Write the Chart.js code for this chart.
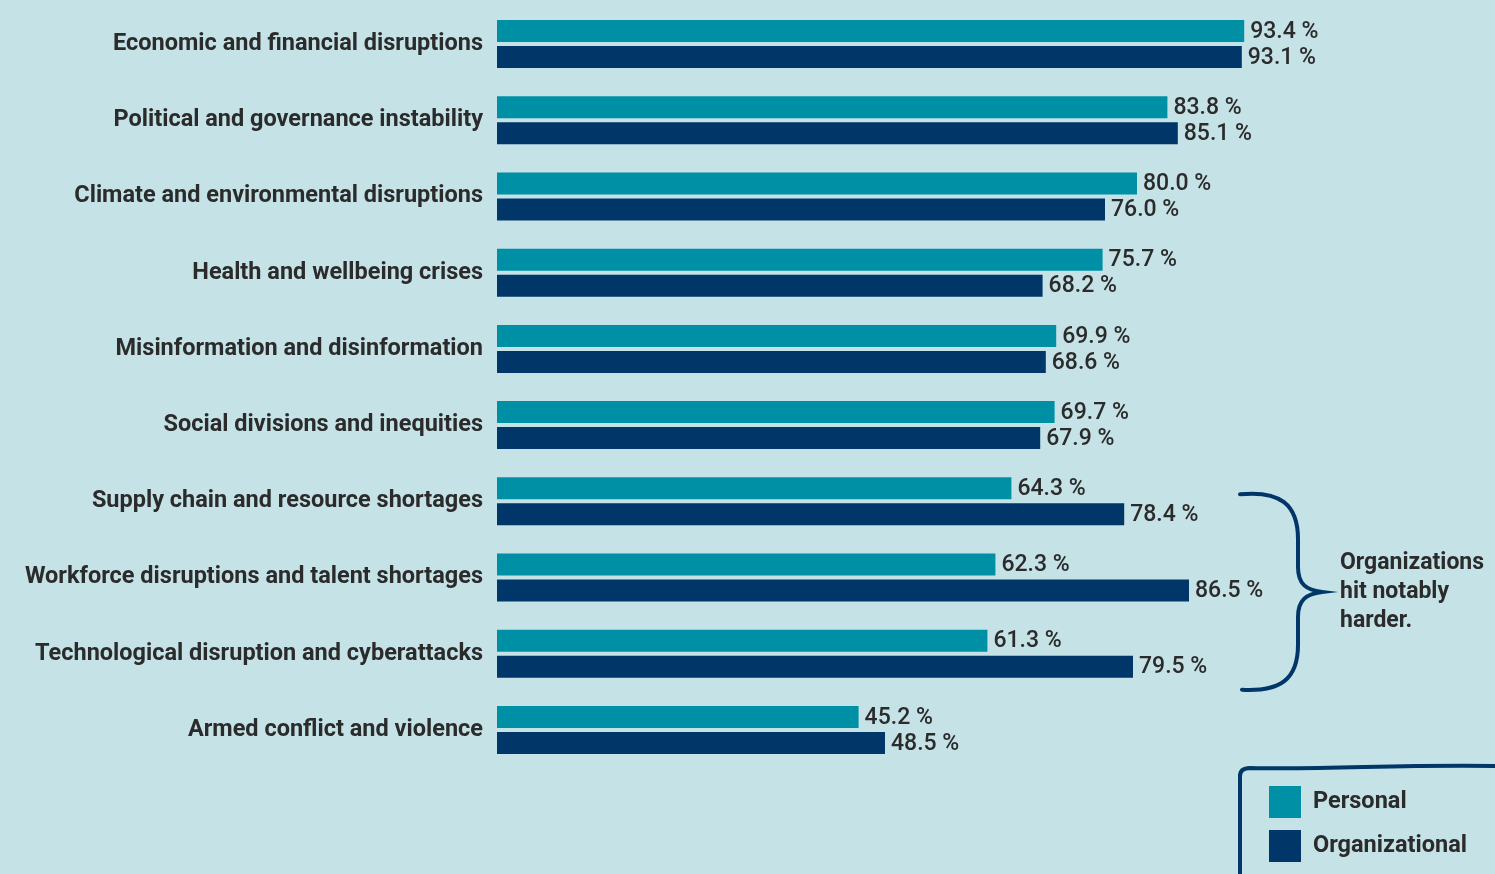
<!DOCTYPE html>
<html>
<head>
<meta charset="utf-8">
<script src="https://cdn.jsdelivr.net/npm/chart.js@4/dist/chart.umd.min.js"></script>
<style>
  html, body { margin: 0; padding: 0; background: #c5e2e7; }
  #wrap { position: relative; width: 1495px; height: 874px; overflow: hidden; }
</style>
</head>
<body>
<div id="wrap"><canvas id="chart"></canvas></div>
<script>
// Dados do gráfico
const categorias = [
  'Economic and financial disruptions',
  'Political and governance instability',
  'Climate and environmental disruptions',
  'Health and wellbeing crises',
  'Misinformation and disinformation',
  'Social divisions and inequities',
  'Supply chain and resource shortages',
  'Workforce disruptions and talent shortages',
  'Technological disruption and cyberattacks',
  'Armed conflict and violence'
];
const valoresPessoal = [93.4, 83.8, 80.0, 75.7, 69.9, 69.7, 64.3, 62.3, 61.3, 45.2];
const valoresOrganizacional = [93.1, 85.1, 76.0, 68.2, 68.6, 67.9, 78.4, 86.5, 79.5, 48.5];
const nomesSeries = ['Personal', 'Organizational'];
const notaChave = ['Organizations', 'hit notably', 'harder.'];
const linhasDestacadas = [6, 8]; // primeira e última categoria da chave

const corTeal = '#0090a6';
const corNavy = '#003668';
const corTexto = '#2b2b2b';
const fonte = 'Roboto, "DejaVu Sans", sans-serif';

// Rótulos de valor no fim das barras
const valueLabels = {
  id: 'valueLabels',
  afterDatasetsDraw(chart) {
    const ctx = chart.ctx;
    ctx.save();
    ctx.font = '500 23px ' + fonte;
    ctx.fillStyle = corTexto;
    ctx.textAlign = 'left';
    ctx.textBaseline = 'middle';
    chart.data.datasets.forEach((ds, di) => {
      chart.getDatasetMeta(di).data.forEach((bar, i) => {
        ctx.fillText(ds.data[i].toFixed(1) + ' %', bar.x + 6, bar.y + 1);
      });
    });
    ctx.restore();
  }
};

// Chave + nota + legenda
const extras = {
  id: 'extras',
  afterDraw(chart) {
    const ctx = chart.ctx;
    const y = chart.scales.y;
    const top = y.getPixelForValue(linhasDestacadas[0]) - 7;
    const bot = y.getPixelForValue(linhasDestacadas[1]) + 36;
    const mid = (top + bot) / 2;
    const x0 = 1240, x1 = 1298, xp = 1322;

    ctx.save();
    ctx.strokeStyle = corNavy;
    ctx.lineWidth = 4;
    ctx.lineCap = 'round';
    ctx.beginPath();
    ctx.moveTo(x0, top);
    ctx.bezierCurveTo(x0 + 40, top - 4, x1, top + 10, x1, top + 45);
    ctx.lineTo(x1, mid - 25);
    ctx.bezierCurveTo(x1, mid - 8, x1 + 8, mid - 2, xp, mid);
    ctx.bezierCurveTo(x1 + 8, mid + 2, x1, mid + 8, x1, mid + 25);
    ctx.lineTo(x1, bot - 45);
    ctx.bezierCurveTo(x1, bot - 10, x0 + 40, bot + 2, x0 + 2, bot);
    ctx.stroke();

    ctx.font = 'bold 23px ' + fonte;
    ctx.fillStyle = corTexto;
    ctx.textBaseline = 'middle';
    notaChave.forEach((t, i) => ctx.fillText(t, 1340, mid - 29 + i * 29));

    // Caixa da legenda
    ctx.lineWidth = 4;
    ctx.beginPath();
    ctx.moveTo(1240, 880);
    ctx.lineTo(1240, 776);
    ctx.quadraticCurveTo(1240, 768, 1250, 768);
    ctx.bezierCurveTo(1330, 770, 1400, 764, 1500, 766);
    ctx.stroke();

    const cores = [corTeal, corNavy];
    nomesSeries.forEach((nome, i) => {
      const yy = 786 + i * 44;
      ctx.fillStyle = cores[i];
      ctx.fillRect(1269, yy, 32, 32);
      ctx.fillStyle = corTexto;
      ctx.font = 'bold 23.5px ' + fonte;
      ctx.fillText(nome, 1313, yy + 16);
    });
    ctx.restore();
  }
};

new Chart(document.getElementById('chart'), {
  type: 'bar',
  data: {
    labels: categorias,
    datasets: [
      { label: nomesSeries[0], data: valoresPessoal, backgroundColor: corTeal },
      { label: nomesSeries[1], data: valoresOrganizacional, backgroundColor: corNavy }
    ]
  },
  options: {
    indexAxis: 'y',
    responsive: true,
    maintainAspectRatio: false,
    animation: false,
    categoryPercentage: 0.682,
    barPercentage: 0.846,
    layout: { padding: { top: 6, bottom: 106, right: 198, left: 0 } },
    plugins: {
      legend: { display: false },
      tooltip: { enabled: false }
    },
    scales: {
      x: { display: false, min: 0, max: 100 },
      y: {
        grid: { display: false, drawTicks: false },
        border: { display: false },
        ticks: {
          color: corTexto,
          padding: 14,
          font: { family: fonte, size: 23.5, weight: 'bold' }
        },
        afterFit(scale) {
          scale.width = 497;
          scale.paddingTop = 0;
          scale.paddingBottom = 0;
        }
      }
    }
  },
  plugins: [valueLabels, extras]
});
</script>
</body>
</html>
